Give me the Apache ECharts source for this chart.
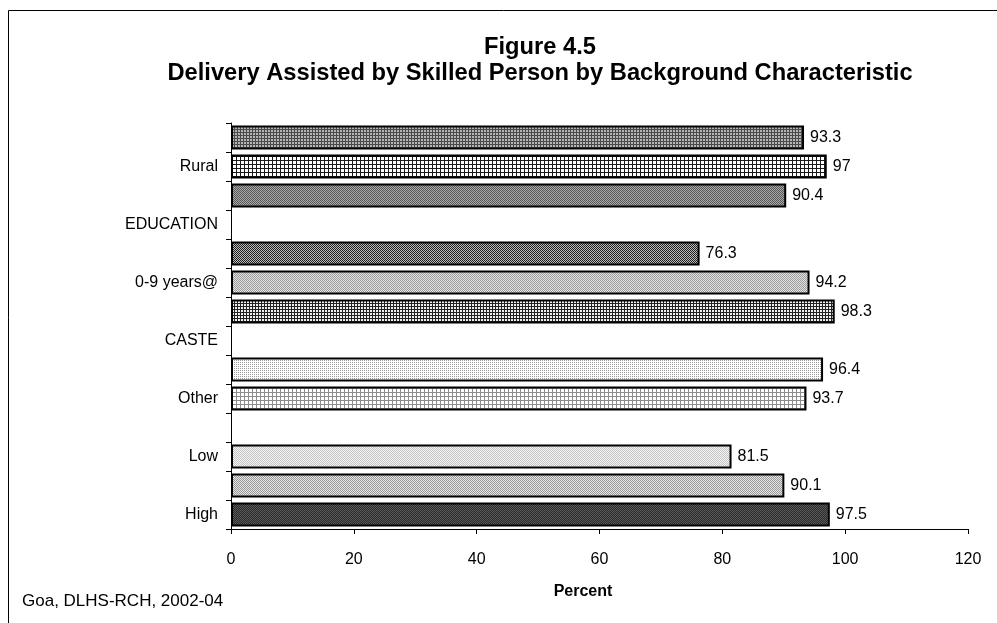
<!DOCTYPE html>
<html>
<head>
<meta charset="utf-8">
<script src="https://cdn.jsdelivr.net/npm/echarts@6/dist/echarts.min.js"></script>
<style>
  html, body { margin: 0; padding: 0; background: #fff; }
  #chart { width: 997px; height: 623px; }
</style>
</head>
<body>
<div id="chart"></div>
<script>
// Categories listed bottom-to-top (first entry sits at the bottom of the axis)
const categories = [
  'High', 'Medium', 'Low', 'STANDARD OF LIVING INDEX',
  'Other', 'SC/ST', 'CASTE',
  '10 years & above', '0-9 years@', 'Illiterate', 'EDUCATION',
  'Total', 'Rural', 'Urban'
];
// Percent of deliveries assisted by a skilled person (null = group heading row)
const values = [97.5, 90.1, 81.5, null, 93.7, 96.4, null, 98.3, 94.2, 76.3, null, 90.4, 97, 93.3];
const xTicks = { min: 0, max: 120, interval: 20 };
const titleLines = ['Figure 4.5', 'Delivery Assisted by Skilled Person by Background Characteristic'];
const axisName = 'Percent';
const sourceNote = 'Goa, DLHS-RCH, 2002-04';

// Build a small repeating bitmap fill from rows of colour keys
function pattern(rows, palette) {
  const c = document.createElement('canvas');
  c.width = rows[0].length;
  c.height = rows.length;
  const ctx = c.getContext('2d');
  rows.forEach((r, y) => {
    [...r].forEach((ch, x) => {
      ctx.fillStyle = palette[ch];
      ctx.fillRect(x, y, 1, 1);
    });
  });
  return { image: c, repeat: 'repeat' };
}

// One hatch fill per bar, same order as categories
const fills = [
  pattern(['dk', 'kd'], { d: '#5a5a5a', k: '#2a2a2a' }),                       // High
  pattern(['gw', 'wg'], { g: '#9a9a9a', w: '#e4e4e4' }),                       // Medium
  pattern(['gw', 'wg'], { g: '#c4c4c4', w: '#f4f4f4' }),                       // Low
  null,
  pattern(['gggg', 'gwww', 'gwww', 'gwww'], { g: '#8c8c8c', w: '#ffffff' }),   // Other
  pattern(['gw', 'ww'], { g: '#9a9a9a', w: '#ffffff' }),                       // SC/ST
  null,
  pattern(['kkk', 'kww', 'kww'], { k: '#222222', w: '#f0f0f0' }),              // 10+
  pattern(['ab', 'ba'], { a: '#9c9c9c', b: '#e2e2e2' }),                       // 0-9
  pattern(['kw', 'wk'], { k: '#1e1e1e', w: '#bdbdbd' }),                       // Illiterate
  null,
  pattern(['dg', 'gd'], { d: '#585858', g: '#a8a8a8' }),                       // Total
  pattern(['kkkk', 'kwww', 'kwww', 'kwww'], { k: '#1a1a1a', w: '#ffffff' }),   // Rural
  pattern(['kkk', 'kgg', 'kgg'], { k: '#4a4a4a', g: '#b4b4b4' })               // Urban
];

const barData = values.map((v, i) => v === null ? null : {
  value: v,
  itemStyle: { color: fills[i] }
});

const chart = echarts.init(document.getElementById('chart'), null, { renderer: 'canvas' });
const font = 'Arial, "Liberation Sans", sans-serif';
const labelSize = 16;

chart.setOption({
  animation: false,
  backgroundColor: '#ffffff',
  grid: { left: 231, right: 29, top: 123, bottom: 94, containLabel: false },
  xAxis: {
    type: 'value',
    min: xTicks.min, max: xTicks.max, interval: xTicks.interval,
    axisLine: { show: true, lineStyle: { color: '#000', width: 1 } },
    axisTick: { show: true, length: 5, inside: false, lineStyle: { color: '#000' } },
    axisLabel: { color: '#000', fontSize: labelSize, fontFamily: font, margin: 23 },
    splitLine: { show: false }
  },
  yAxis: {
    type: 'category',
    data: categories,
    axisLine: { show: true, lineStyle: { color: '#000', width: 1 } },
    axisTick: { show: true, length: 5, interval: 0, alignWithLabel: false, lineStyle: { color: '#000' } },
    axisLabel: { color: '#000', fontSize: labelSize, fontFamily: font, interval: 1, margin: 13 },
    splitLine: { show: false }
  },
  series: [{
    type: 'bar',
    data: barData,
    barWidth: 24,
    itemStyle: { borderColor: '#000', borderWidth: 2 },
    label: {
      show: true, position: 'right', distance: 6,
      color: '#000', fontSize: labelSize, fontFamily: font
    }
  }],
  graphic: [
    {
      type: 'rect', silent: true,
      shape: { x: 8.5, y: 10.5, width: 1000, height: 700 },
      style: { fill: null, stroke: '#000', lineWidth: 1 }
    },
    {
      type: 'text', silent: true,
      style: { x: 540, y: 47, text: titleLines[0], align: 'center', verticalAlign: 'middle',
               font: 'bold 23.7px ' + font, fill: '#000' }
    },
    {
      type: 'text', silent: true,
      style: { x: 540, y: 73, text: titleLines[1], align: 'center', verticalAlign: 'middle',
               font: 'bold 23.7px ' + font, fill: '#000' }
    },
    {
      type: 'text', silent: true,
      style: { x: 583, y: 592, text: axisName, align: 'center', verticalAlign: 'middle',
               font: 'bold 16px ' + font, fill: '#000' }
    },
    {
      type: 'text', silent: true,
      style: { x: 22, y: 601, text: sourceNote, align: 'left', verticalAlign: 'middle',
               font: '17px ' + font, fill: '#000' }
    }
  ]
});
</script>
</body>
</html>
